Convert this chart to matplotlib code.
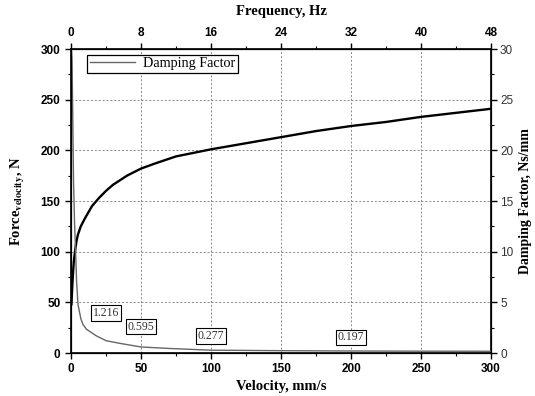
import matplotlib
matplotlib.use("Agg")
import matplotlib.pyplot as plt
from matplotlib.ticker import MultipleLocator

plt.rcParams['mathtext.fontset'] = 'stix'

# Force vs velocity (left axis)
force_v = [0.3, 1, 1.5, 2, 3, 4, 5, 7, 10, 15, 20, 25, 30, 40, 50, 60, 75,
           100, 125, 150, 175, 200, 225, 250, 275, 300]
force_f = [48, 68, 80, 90, 102, 111, 117, 125, 133, 145, 153, 160, 166, 175,
           182, 187, 194, 201, 207, 213, 219, 224, 228, 233, 237, 241]

# Damping factor vs velocity (right axis)
damp_v = [0.3, 0.7, 1.2, 1.8, 2.5, 3.1, 4, 5, 7, 8.6, 11, 14, 18, 25, 35, 50,
          70, 100, 150, 200, 250, 300]
damp_d = [30, 29, 24, 17, 13, 10.7, 7, 4.8, 3.4, 2.8, 2.35, 2.07, 1.7, 1.216,
          0.95, 0.595, 0.45, 0.277, 0.23, 0.197, 0.18, 0.17]

# annotated values
ann_v = [25, 50, 100, 200]
ann_text = ["1.216", "0.595", "0.277", "0.197"]
ann_y = [3.95, 2.6, 1.68, 1.55]

freq_ticks = [0, 8, 16, 24, 32, 40, 48]

fig = plt.figure(figsize=(5.35, 3.96), dpi=100)
ax = fig.add_axes([71/535, 1-353/396, 420/535, 304/396])

tick_font = dict(family='Liberation Sans', weight='bold', size=8.5)
label_font = dict(family='Liberation Serif', weight='bold', size=10.5)

ax.plot(force_v, force_f, color='black', lw=1.7, zorder=3)
ax.set_xlim(0, 300)
ax.set_ylim(0, 300)
ax.xaxis.set_major_locator(MultipleLocator(50))
ax.xaxis.set_minor_locator(MultipleLocator(25))
ax.yaxis.set_major_locator(MultipleLocator(50))
ax.yaxis.set_minor_locator(MultipleLocator(25))
ax.grid(True, which='major', color='#888888', linestyle=(0, (2, 2)), lw=0.7)
ax.tick_params(which='major', direction='out', length=4, width=1)
ax.tick_params(which='minor', direction='out', length=2.5, width=0.8)
for lbl in ax.get_xticklabels() + ax.get_yticklabels():
    lbl.set_fontproperties(matplotlib.font_manager.FontProperties(**tick_font))
ax.set_xlabel("Velocity, mm/s", fontdict=label_font, labelpad=3)
ax.set_ylabel(r"Force$_{\mathbf{velocity}}$, N", fontdict=label_font, labelpad=10)
for s in ax.spines.values():
    s.set_linewidth(1.2)

ax2 = ax.twinx()
ax2.plot(damp_v, damp_d, color='#666666', lw=1.0, zorder=2, label='Damping Factor')
ax2.set_ylim(0, 30)
ax2.yaxis.set_major_locator(MultipleLocator(5))
ax2.yaxis.set_minor_locator(MultipleLocator(2.5))
ax2.tick_params(which='major', direction='out', length=4, width=1, labelsize=8.5,
                labelcolor='#333333', pad=2.5)
ax2.tick_params(which='minor', direction='out', length=2.5, width=0.8)
for lbl in ax2.get_yticklabels():
    lbl.set_family('Liberation Sans')
ax2.set_ylabel("Damping Factor, Ns/mm", fontdict=dict(family='Liberation Serif',
               weight='bold', size=10), labelpad=4)
leg = ax2.legend(loc='upper left', bbox_to_anchor=(0.022, 1.005), frameon=True,
                 fancybox=False, edgecolor='black', framealpha=1,
                 prop=dict(family='Liberation Serif', size=10.2),
                 handlelength=3.2, borderpad=0.2, handletextpad=0.5)
leg.get_frame().set_linewidth(0.9)

for v, t, y in zip(ann_v, ann_text, ann_y):
    ax2.text(v, y, t, ha='center', va='center', family='Liberation Serif',
             size=8.5, color='#333333',
             bbox=dict(boxstyle='square,pad=0.15', fc='white', ec='black', lw=0.8))

ax3 = ax.twiny()
ax3.set_xlim(0, 48)
ax3.set_xticks(freq_ticks)
ax3.xaxis.set_minor_locator(MultipleLocator(4))
ax3.tick_params(which='major', direction='out', length=4, width=1)
ax3.tick_params(which='minor', direction='out', length=2.5, width=0.8)
for lbl in ax3.get_xticklabels():
    lbl.set_fontproperties(matplotlib.font_manager.FontProperties(**tick_font))
ax3.set_xlabel("Frequency, Hz", fontdict=label_font, labelpad=8)

fig.savefig("out.png", dpi=100)
